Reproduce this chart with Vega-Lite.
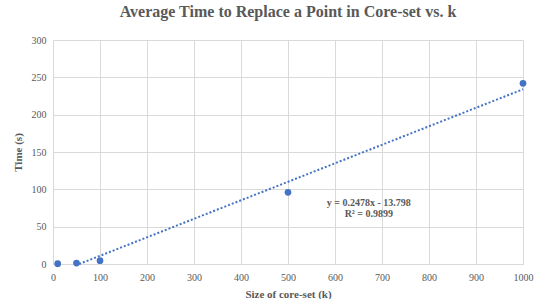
{
  "$schema": "https://vega.github.io/schema/vega-lite/v6.json",
  "autosize": "none",
  "width": 470,
  "height": 224,
  "padding": {"left": 53, "top": 40, "right": 14, "bottom": 35},
  "background": "white",
  "title": {
    "text": "Average Time to Replace a Point in Core-set vs. k",
    "font": "Liberation Serif",
    "fontSize": 16,
    "fontWeight": "bold",
    "color": "#595959",
    "anchor": "middle",
    "offset": 15
  },
  "config": {
    "view": {"stroke": null},
    "axis": {
      "labelFont": "Liberation Serif",
      "labelFontSize": 10,
      "labelColor": "#595959",
      "titleFont": "Liberation Serif",
      "titleFontSize": 11,
      "titleFontWeight": "bold",
      "titleColor": "#595959",
      "gridColor": "#d9d9d9",
      "gridWidth": 1,
      "ticks": false,
      "domain": false,
      "labelFlush": false
    }
  },
  "encoding": {
    "x": {"field": "x", "type": "quantitative", "scale": {"domain": [0, 1000], "nice": false, "zero": true, "padding": 0},
      "axis": {"title": "Size of core-set (k)", "values": [0,100,200,300,400,500,600,700,800,900,1000], "format": "d", "labelPadding": 8, "titlePadding": 6, "labelOverlap": false, "labelFlush": false}},
    "y": {"field": "y", "type": "quantitative", "scale": {"domain": [0, 300], "nice": false, "padding": 0},
      "axis": {"title": "Time (s)", "values": [0,50,100,150,200,250,300], "labelPadding": 7, "titlePadding": 8, "labelOverlap": false, "labelFlush": false}}
  },
  "layer": [
    {
      "data": {"values": [{"x": 55.7, "y": 0}, {"x": 1000, "y": 234.0}]},
      "mark": {"type": "line", "color": "#4472C4", "strokeDash": [2, 2], "strokeWidth": 2}
    },
    {
      "data": {"values": [
        {"x": 10, "y": 0.5},
        {"x": 50, "y": 1.2},
        {"x": 100, "y": 4.5},
        {"x": 500, "y": 96},
        {"x": 1000, "y": 242}
      ]},
      "mark": {"type": "point", "filled": true, "color": "#4472C4", "opacity": 1, "size": 45}
    },
    {
      "data": {"values": [
        {"x": 672, "y": 81.5, "t": "y = 0.2478x - 13.798"},
        {"x": 672, "y": 67, "t": "R² = 0.9899"}
      ]},
      "mark": {"type": "text", "font": "Liberation Serif", "fontSize": 10, "fontWeight": "bold", "color": "#595959", "align": "center", "baseline": "middle"},
      "encoding": {
        "text": {"field": "t"}
      }
    }
  ]
}
